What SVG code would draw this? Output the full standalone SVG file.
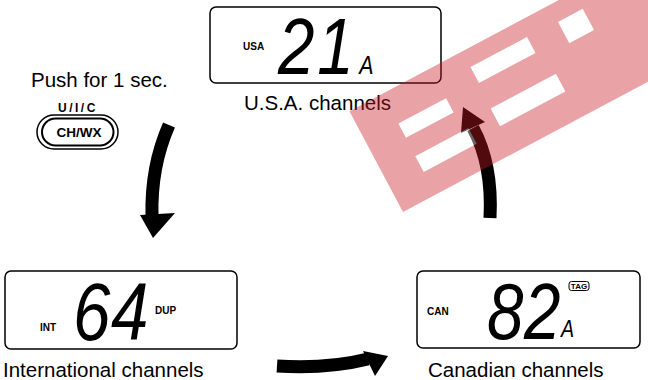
<svg xmlns="http://www.w3.org/2000/svg" width="648" height="380" viewBox="0 0 648 380">
<style>
.box{fill:#fff;stroke:#000;stroke-width:1.5}
.lbl{font-family:"Liberation Sans",Arial,sans-serif;font-size:20.5px;fill:#000}
.tag{font-family:"Liberation Sans",Arial,sans-serif;font-size:10px;font-weight:bold;fill:#000}
.dig{font-family:"Liberation Sans",Arial,sans-serif;font-style:italic;fill:#000}
.arr{fill:none;stroke:#000;stroke-width:13}
</style>
<rect width="648" height="380" fill="#fff"/>
<g id="usa">
<rect class="box" x="210" y="7" width="231" height="76" rx="6"/>
<text class="tag" x="243" y="50">USA</text>
<text class="dig" transform="translate(0,74) scale(0.82,1)" y="0" font-size="80"><tspan x="339">2</tspan><tspan x="387">1</tspan><tspan x="438" font-size="26">A</tspan></text>
<text class="lbl" x="244" y="110">U.S.A. channels</text>
</g>
<g id="button">
<text class="lbl" x="31" y="87">Push for 1 sec.</text>
<text x="58" y="112" font-family="Liberation Sans,Arial,sans-serif" font-size="12" font-weight="bold" letter-spacing="2.5">U/I/C</text>
<rect x="37" y="115" width="81" height="34" rx="17" fill="none" stroke="#000" stroke-width="1.5"/>
<rect x="42" y="118.5" width="71.5" height="27" rx="13.5" fill="none" stroke="#000" stroke-width="2"/>
<text x="79" y="137" text-anchor="middle" font-family="Liberation Sans,Arial,sans-serif" font-size="13.5" font-weight="bold">CH/WX</text>
</g>
<g id="int">
<rect class="box" x="5" y="271" width="232" height="78" rx="6"/>
<text class="tag" x="40" y="331">INT</text>
<text class="dig" transform="translate(0,340) scale(0.82,1)" y="0" font-size="82"><tspan x="89">6</tspan><tspan x="135.4">4</tspan></text>
<text class="tag" x="155" y="314">DUP</text>
<text class="lbl" x="3" y="376.5" font-size="20">International channels</text>
</g>
<g id="can">
<rect class="box" x="417" y="271" width="223" height="77" rx="6"/>
<text class="tag" x="427" y="315">CAN</text>
<text class="dig" transform="translate(0,339) scale(0.82,1)" y="0" font-size="80"><tspan x="593.9">8</tspan><tspan x="639">2</tspan><tspan x="684.1" dy="-2" font-size="24">A</tspan></text>
<rect x="569" y="281.5" width="20" height="9" rx="2.5" fill="#fff" stroke="#000" stroke-width="1"/>
<text x="579" y="289.3" text-anchor="middle" font-family="Liberation Sans,Arial,sans-serif" font-size="8" font-weight="bold">TAG</text>
<text class="lbl" x="428" y="376.5" font-size="19.5">Canadian channels</text>
</g>
<g id="connectors">
<path class="arr" d="M169,125 C158,150 151,178 152,216"/>
<polygon points="140,215 175,213 153,238"/>
<path class="arr" d="M277,366 C310,368 340,366 368,359"/>
<polygon points="363,351 388,356 375,376"/>
<path class="arr" d="M490,218 C492,180 486,152 473,128"/>
<polygon points="461,133 485,122 463,107"/>
</g>
<g id="watermark" opacity="0.4">
<g transform="translate(403,212) rotate(-28)">
<rect x="0" y="-114" width="460" height="114" fill="#ca1c26"/>
</g>
<g fill="#fff">
<rect x="-27" y="-8" width="54" height="16" transform="translate(426,118) rotate(-28)"/>
<rect x="-30" y="-9" width="60" height="18" transform="translate(446,150) rotate(-28)"/>
<rect x="-32" y="-9" width="64" height="18" transform="translate(503,60) rotate(-28)"/>
<rect x="-37" y="-10" width="74" height="20" transform="translate(528,100) rotate(-28)"/>
<rect x="-14" y="-12" width="28" height="24" transform="translate(576,26) rotate(-28)"/>
</g>
</g>
</svg>
